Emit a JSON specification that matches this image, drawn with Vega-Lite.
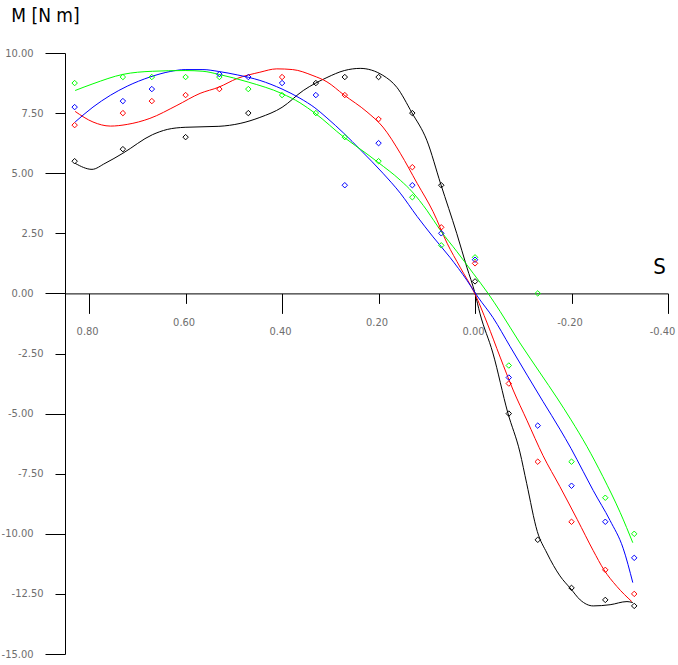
{
  "$schema": "https://vega.github.io/schema/vega-lite/v6.json",
  "autosize": {"type": "none"},
  "padding": {"left": 65, "top": 53, "right": 10, "bottom": 11},
  "width": 603,
  "height": 601,
  "background": "white",
  "config": {"view": {"stroke": null}},
  "datasets": {
    "pts": [
      {"S": 0.83, "M": 8.75, "series": "green"}, {"S": 0.73, "M": 9.0, "series": "green"}, {"S": 0.67, "M": 9.0, "series": "green"}, {"S": 0.60, "M": 9.0, "series": "green"}, {"S": 0.53, "M": 9.0, "series": "green"}, {"S": 0.47, "M": 8.5, "series": "green"}, {"S": 0.40, "M": 8.25, "series": "green"}, {"S": 0.33, "M": 7.5, "series": "green"}, {"S": 0.27, "M": 6.5, "series": "green"}, {"S": 0.20, "M": 5.5, "series": "green"}, {"S": 0.13, "M": 4.0, "series": "green"}, {"S": 0.07, "M": 2.0, "series": "green"}, {"S": 0.0, "M": 1.5, "series": "green"}, {"S": -0.07, "M": -3.0, "series": "green"}, {"S": -0.13, "M": 0.0, "series": "green"}, {"S": -0.20, "M": -7.0, "series": "green"}, {"S": -0.27, "M": -8.5, "series": "green"}, {"S": -0.33, "M": -10.0, "series": "green"},
      {"S": 0.83, "M": 7.75, "series": "blue"}, {"S": 0.73, "M": 8.0, "series": "blue"}, {"S": 0.67, "M": 8.5, "series": "blue"}, {"S": 0.53, "M": 9.12, "series": "blue"}, {"S": 0.47, "M": 9.0, "series": "blue"}, {"S": 0.40, "M": 8.75, "series": "blue"}, {"S": 0.33, "M": 8.25, "series": "blue"}, {"S": 0.27, "M": 4.5, "series": "blue"}, {"S": 0.20, "M": 6.25, "series": "blue"}, {"S": 0.13, "M": 4.5, "series": "blue"}, {"S": 0.07, "M": 2.5, "series": "blue"}, {"S": 0.0, "M": 1.4, "series": "blue"}, {"S": -0.07, "M": -3.5, "series": "blue"}, {"S": -0.13, "M": -5.5, "series": "blue"}, {"S": -0.20, "M": -8.0, "series": "blue"}, {"S": -0.27, "M": -9.5, "series": "blue"}, {"S": -0.33, "M": -11.0, "series": "blue"},
      {"S": 0.83, "M": 7.0, "series": "red"}, {"S": 0.73, "M": 7.5, "series": "red"}, {"S": 0.67, "M": 8.0, "series": "red"}, {"S": 0.60, "M": 8.25, "series": "red"}, {"S": 0.53, "M": 8.5, "series": "red"}, {"S": 0.40, "M": 9.0, "series": "red"}, {"S": 0.27, "M": 8.25, "series": "red"}, {"S": 0.20, "M": 7.25, "series": "red"}, {"S": 0.13, "M": 5.25, "series": "red"}, {"S": 0.07, "M": 2.75, "series": "red"}, {"S": 0.0, "M": 1.25, "series": "red"}, {"S": -0.07, "M": -3.75, "series": "red"}, {"S": -0.13, "M": -7.0, "series": "red"}, {"S": -0.20, "M": -9.5, "series": "red"}, {"S": -0.27, "M": -11.5, "series": "red"}, {"S": -0.33, "M": -12.5, "series": "red"},
      {"S": 0.83, "M": 5.5, "series": "black"}, {"S": 0.73, "M": 6.0, "series": "black"}, {"S": 0.60, "M": 6.5, "series": "black"}, {"S": 0.47, "M": 7.5, "series": "black"}, {"S": 0.33, "M": 8.75, "series": "black"}, {"S": 0.27, "M": 9.0, "series": "black"}, {"S": 0.20, "M": 9.0, "series": "black"}, {"S": 0.13, "M": 7.5, "series": "black"}, {"S": 0.07, "M": 4.5, "series": "black"}, {"S": 0.0, "M": 0.5, "series": "black"}, {"S": -0.07, "M": -5.0, "series": "black"}, {"S": -0.13, "M": -10.25, "series": "black"}, {"S": -0.20, "M": -12.25, "series": "black"}, {"S": -0.27, "M": -12.75, "series": "black"}, {"S": -0.33, "M": -13.0, "series": "black"}
    ],
    "curves": [
      {"S": 0.829, "M": 5.41, "series": "black"}, {"S": 0.794, "M": 5.16, "series": "black"}, {"S": 0.767, "M": 5.41, "series": "black"}, {"S": 0.730, "M": 5.83, "series": "black"}, {"S": 0.669, "M": 6.6, "series": "black"}, {"S": 0.638, "M": 6.82, "series": "black"}, {"S": 0.601, "M": 6.91, "series": "black"}, {"S": 0.531, "M": 6.95, "series": "black"}, {"S": 0.487, "M": 7.07, "series": "black"}, {"S": 0.446, "M": 7.32, "series": "black"}, {"S": 0.400, "M": 7.74, "series": "black"}, {"S": 0.356, "M": 8.44, "series": "black"}, {"S": 0.307, "M": 8.98, "series": "black"}, {"S": 0.271, "M": 9.27, "series": "black"}, {"S": 0.238, "M": 9.36, "series": "black"}, {"S": 0.191, "M": 9.07, "series": "black"}, {"S": 0.162, "M": 8.57, "series": "black"}, {"S": 0.131, "M": 7.52, "series": "black"}, {"S": 0.100, "M": 6.37, "series": "black"}, {"S": 0.071, "M": 4.54, "series": "black"}, {"S": 0.038, "M": 2.50, "series": "black"}, {"S": 0.017, "M": 1.09, "series": "black"}, {"S": 0.0, "M": 0.0, "series": "black"}, {"S": -0.010, "M": -0.82, "series": "black"}, {"S": -0.037, "M": -2.48, "series": "black"}, {"S": -0.068, "M": -4.97, "series": "black"}, {"S": -0.093, "M": -6.6, "series": "black"}, {"S": -0.107, "M": -7.9, "series": "black"}, {"S": -0.129, "M": -9.9, "series": "black"}, {"S": -0.149, "M": -10.8, "series": "black"}, {"S": -0.176, "M": -11.75, "series": "black"}, {"S": -0.199, "M": -12.3, "series": "black"}, {"S": -0.218, "M": -12.75, "series": "black"}, {"S": -0.245, "M": -13.0, "series": "black"}, {"S": -0.280, "M": -12.95, "series": "black"}, {"S": -0.315, "M": -12.82, "series": "black"}, {"S": -0.327, "M": -12.86, "series": "black"},
      {"S": 0.829, "M": 7.57, "series": "red"}, {"S": 0.792, "M": 7.13, "series": "red"}, {"S": 0.756, "M": 6.96, "series": "red"}, {"S": 0.721, "M": 7.03, "series": "red"}, {"S": 0.674, "M": 7.28, "series": "red"}, {"S": 0.618, "M": 7.82, "series": "red"}, {"S": 0.570, "M": 8.32, "series": "red"}, {"S": 0.531, "M": 8.58, "series": "red"}, {"S": 0.493, "M": 8.94, "series": "red"}, {"S": 0.446, "M": 9.20, "series": "red"}, {"S": 0.411, "M": 9.34, "series": "red"}, {"S": 0.378, "M": 9.31, "series": "red"}, {"S": 0.336, "M": 9.06, "series": "red"}, {"S": 0.307, "M": 8.8, "series": "red"}, {"S": 0.272, "M": 8.26, "series": "red"}, {"S": 0.224, "M": 7.55, "series": "red"}, {"S": 0.191, "M": 6.92, "series": "red"}, {"S": 0.155, "M": 5.83, "series": "red"}, {"S": 0.120, "M": 4.58, "series": "red"}, {"S": 0.087, "M": 3.4, "series": "red"}, {"S": 0.058, "M": 2.09, "series": "red"}, {"S": 0.031, "M": 1.09, "series": "red"}, {"S": 0.0, "M": -0.03, "series": "red"}, {"S": -0.025, "M": -1.23, "series": "red"}, {"S": -0.052, "M": -2.65, "series": "red"}, {"S": -0.079, "M": -4.02, "series": "red"}, {"S": -0.108, "M": -5.3, "series": "red"}, {"S": -0.141, "M": -6.75, "series": "red"}, {"S": -0.176, "M": -8.04, "series": "red"}, {"S": -0.212, "M": -9.41, "series": "red"}, {"S": -0.245, "M": -10.7, "series": "red"}, {"S": -0.267, "M": -11.49, "series": "red"}, {"S": -0.294, "M": -12.19, "series": "red"}, {"S": -0.325, "M": -12.82, "series": "red"},
      {"S": 0.829, "M": 7.13, "series": "blue"}, {"S": 0.792, "M": 7.75, "series": "blue"}, {"S": 0.756, "M": 8.24, "series": "blue"}, {"S": 0.721, "M": 8.62, "series": "blue"}, {"S": 0.674, "M": 9.00, "series": "blue"}, {"S": 0.632, "M": 9.23, "series": "blue"}, {"S": 0.601, "M": 9.31, "series": "blue"}, {"S": 0.564, "M": 9.31, "series": "blue"}, {"S": 0.531, "M": 9.23, "series": "blue"}, {"S": 0.493, "M": 9.09, "series": "blue"}, {"S": 0.446, "M": 8.86, "series": "blue"}, {"S": 0.400, "M": 8.5, "series": "blue"}, {"S": 0.363, "M": 8.12, "series": "blue"}, {"S": 0.332, "M": 7.72, "series": "blue"}, {"S": 0.307, "M": 7.3, "series": "blue"}, {"S": 0.272, "M": 6.66, "series": "blue"}, {"S": 0.238, "M": 5.98, "series": "blue"}, {"S": 0.191, "M": 5.00, "series": "blue"}, {"S": 0.155, "M": 4.17, "series": "blue"}, {"S": 0.120, "M": 3.2, "series": "blue"}, {"S": 0.087, "M": 2.35, "series": "blue"}, {"S": 0.052, "M": 1.5, "series": "blue"}, {"S": 0.017, "M": 0.55, "series": "blue"}, {"S": -0.006, "M": -0.15, "series": "blue"}, {"S": -0.037, "M": -1.0, "series": "blue"}, {"S": -0.073, "M": -2.22, "series": "blue"}, {"S": -0.108, "M": -3.4, "series": "blue"}, {"S": -0.141, "M": -4.5, "series": "blue"}, {"S": -0.176, "M": -5.65, "series": "blue"}, {"S": -0.199, "M": -6.45, "series": "blue"}, {"S": -0.224, "M": -7.4, "series": "blue"}, {"S": -0.245, "M": -8.2, "series": "blue"}, {"S": -0.280, "M": -9.45, "series": "blue"}, {"S": -0.307, "M": -10.6, "series": "blue"}, {"S": -0.327, "M": -12.03, "series": "blue"},
      {"S": 0.829, "M": 8.44, "series": "green"}, {"S": 0.792, "M": 8.72, "series": "green"}, {"S": 0.730, "M": 9.11, "series": "green"}, {"S": 0.669, "M": 9.24, "series": "green"}, {"S": 0.601, "M": 9.27, "series": "green"}, {"S": 0.564, "M": 9.24, "series": "green"}, {"S": 0.531, "M": 9.11, "series": "green"}, {"S": 0.470, "M": 8.79, "series": "green"}, {"S": 0.400, "M": 8.31, "series": "green"}, {"S": 0.363, "M": 7.93, "series": "green"}, {"S": 0.332, "M": 7.5, "series": "green"}, {"S": 0.272, "M": 6.5, "series": "green"}, {"S": 0.224, "M": 5.8, "series": "green"}, {"S": 0.201, "M": 5.45, "series": "green"}, {"S": 0.155, "M": 4.71, "series": "green"}, {"S": 0.130, "M": 4.22, "series": "green"}, {"S": 0.100, "M": 3.46, "series": "green"}, {"S": 0.071, "M": 2.6, "series": "green"}, {"S": 0.038, "M": 1.75, "series": "green"}, {"S": 0.004, "M": 0.84, "series": "green"}, {"S": -0.027, "M": 0.0, "series": "green"}, {"S": -0.052, "M": -0.75, "series": "green"}, {"S": -0.093, "M": -2.06, "series": "green"}, {"S": -0.135, "M": -3.31, "series": "green"}, {"S": -0.170, "M": -4.35, "series": "green"}, {"S": -0.199, "M": -5.26, "series": "green"}, {"S": -0.232, "M": -6.37, "series": "green"}, {"S": -0.265, "M": -7.62, "series": "green"}, {"S": -0.301, "M": -9.12, "series": "green"}, {"S": -0.327, "M": -10.37, "series": "green"}
    ]
  },
  "encoding": {
    "x": {
      "field": "S", "type": "quantitative",
      "scale": {"domain": [0.85, -0.4], "nice": false, "zero": false},
      "axis": {
        "orient": "bottom",
        "offset": -360.6,
        "values": [0.8, 0.6, 0.4, 0.2, 0, -0.2, -0.4],
        "grid": false,
        "domainColor": "black", "tickColor": "black", "domainWidth": 1, "tickWidth": 1,
        "tickSize": {"condition": {"test": "abs(round(datum.value * 10)) % 4 === 0", "value": 20}, "value": 10},
        "labelPadding": {"condition": {"test": "abs(round(datum.value * 10)) % 4 === 0", "value": 12}, "value": 13},
        "labelOffset": {"condition": {"test": "datum.value < -0.3", "value": -6}, "value": -2},
        "labelFont": "DejaVu Sans Condensed", "labelFontSize": 11, "labelColor": "#6e6e6e",
        "labelExpr": "replace(format(datum.value, '.2f'), '\u2212', '-')",
        "labelFlush": false, "labelOverlap": false,
        "title": "S",
        "titleFont": "DejaVu Sans Condensed", "titleFontSize": 22, "titleFontWeight": "normal", "titleColor": "black",
        "titleAngle": 0, "titleAlign": "center", "titleBaseline": "middle",
        "titleX": 594, "titleY": -27
      }
    },
    "y": {
      "field": "M", "type": "quantitative",
      "scale": {"domain": [-15, 10], "nice": false, "zero": false},
      "axis": {
        "orient": "left",
        "values": [10, 7.5, 5, 2.5, 0, -2.5, -5, -7.5, -10, -12.5, -15],
        "grid": false,
        "domainColor": "black", "tickColor": "black", "domainWidth": 1, "tickWidth": 1,
        "tickSize": {"condition": {"test": "datum.value % 5 === 0", "value": 20}, "value": 10},
        "labelPadding": 12,
        "labelFont": "DejaVu Sans Condensed", "labelFontSize": 11, "labelColor": "#6e6e6e",
        "labelExpr": "replace(format(datum.value, '.2f'), '\u2212', '-')",
        "labelFlush": false, "labelOverlap": false,
        "title": "M [N m]",
        "titleFont": "DejaVu Sans Condensed", "titleFontSize": 19, "titleFontWeight": "normal", "titleColor": "black",
        "titleAngle": 0, "titleAlign": "center", "titleBaseline": "middle",
        "titleX": -20, "titleY": -38
      }
    },
    "color": {
      "field": "series", "type": "nominal",
      "scale": {"domain": ["black", "red", "blue", "green"], "range": ["#000000", "#ff0000", "#0000ff", "#00ff00"]},
      "legend": null
    }
  },
  "layer": [
    {
      "data": {"name": "curves"},
      "mark": {"type": "line", "interpolate": "monotone", "strokeWidth": 1, "clip": false},
      "encoding": {"detail": {"field": "series"}}
    },
    {
      "data": {"name": "pts"},
      "mark": {"type": "point", "shape": "diamond", "filled": false, "size": 30, "strokeWidth": 1, "opacity": 1}
    }
  ]
}
